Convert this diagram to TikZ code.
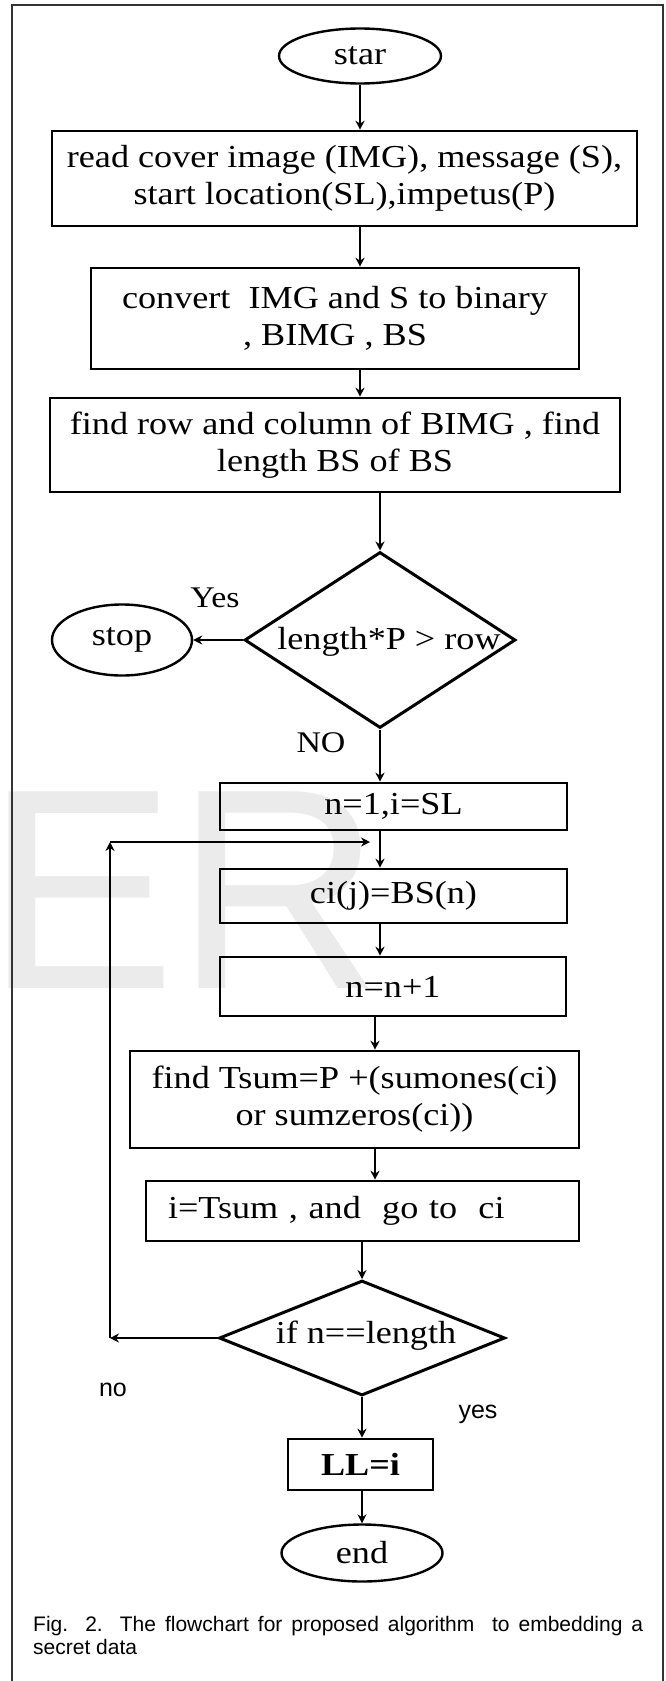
\documentclass[tikz,border=0pt]{standalone}
\usepackage{fontspec}
\setmainfont{Liberation Serif}[FakeStretch=1.13]
\newfontfamily\capfont{Liberation Sans}
\usetikzlibrary{arrows.meta, shapes.geometric}

\begin{document}
\begin{tikzpicture}[x=1pt, y=-1pt,
    procbox/.style={draw, line width=2.6pt, inner sep=0pt, align=center, font=\fontsize{32}{37}\selectfont},
    terminal/.style={draw, ellipse, line width=2.4pt, inner sep=0pt, font=\fontsize{32}{37}\selectfont},
    decision/.style={draw, diamond, line width=3pt, inner sep=0pt},
    cond text/.style={inner sep=0pt, font=\fontsize{32}{37}\selectfont},
    flow/.style={line width=2pt, -{Stealth[length=9pt, width=9pt]}},
    branch label/.style={inner sep=0pt, font=\fontsize{30}{32}\selectfont},
    sans label/.style={inner sep=0pt, font=\capfont\fontsize{25}{27}\selectfont}]

    \useasboundingbox (0,0) rectangle (666,1681);

    % faint letters behind the chart
    \node[anchor=base west, inner sep=0pt, text=black!8, font=\capfont\fontsize{286}{286}\selectfont] (wm) at (0,988) {\kern-15pt ER};

    % page frame
    \draw[black!80, line width=1.2pt] (12,1681) |- (663,5) -- (663,1681);

    % start and input steps
    \node[terminal, minimum width=162, minimum height=55] (star) at (360,56) {star};
    \node[procbox, minimum width=585, minimum height=95] (readin) at (344.5,178.5) {read cover image (IMG), message (S),\\start location(SL),impetus(P)};
    \node[procbox, minimum width=488, minimum height=101] (tobin) at (335,318.5) {convert~ IMG and S to binary\\, BIMG , BS};
    \node[procbox, minimum width=570, minimum height=94] (dims) at (335,445) {find row and column of BIMG , find\\length BS of BS};

    % capacity check
    \node[decision, minimum width=271, minimum height=176] (cap) at (380,640) {};
    \node[cond text] (captext) at (389,642) {length*P > row};
    \node[terminal, minimum width=140, minimum height=71] (stop) at (122,640) {stop};
    \node[branch label] (yes1) at (215,598) {Yes};
    \node[branch label] (no1) at (321,743) {NO};

    % embedding loop
    \node[procbox, minimum width=347, minimum height=47] (init) at (393.5,806.5) {n=1,i=SL};
    \node[procbox, minimum width=347, minimum height=54] (embed) at (393.5,896) {ci(j)=BS(n)};
    \node[procbox, minimum width=346, minimum height=59] (incr) at (393,986.5) {n=n+1};
    \node[procbox, minimum width=449, minimum height=97] (tsum) at (354.5,1099.5) {find Tsum=P +(sumones(ci)\\or sumzeros(ci))};
    \node[procbox, minimum width=433, minimum height=60, text width=389, align=left] (jump) at (362.5,1211) {i=Tsum , and~ go to~ ci};

    % end check
    \node[decision, minimum width=286, minimum height=115] (done) at (362,1338) {};
    \node[cond text] (donetext) at (366,1336) {if n==length};
    \node[sans label] (no2) at (113,1390) {no};
    \node[sans label] (yes2) at (478,1414) {yes};
    \node[procbox, minimum width=145, minimum height=51, font=\bfseries\fontsize{32}{37}\selectfont] (last) at (360.5,1464.5) {LL=i};
    \node[terminal, minimum width=161, minimum height=57] (end) at (362,1553) {end};

    % loop-back corners
    \coordinate (loopbot) at (110,1338);
    \coordinate (looptop) at (110,842);
    \coordinate (loopin) at (370,842);

    % connectors
    \draw[flow] (star.south) -- (star.south |- readin.north);
    \draw[flow] (readin.south -| star) -- (tobin.north -| star);
    \draw[flow] (tobin.south -| star) -- (dims.north -| star);
    \draw[flow] (dims.south -| cap) -- (cap.north);
    \draw[flow] (cap.west) -- (stop.east);
    \draw[flow] (cap.south) -- (cap.south |- init.north);
    \draw[flow] (init.south -| cap) -- (embed.north -| cap);
    \draw[flow] (embed.south -| cap) -- (incr.north -| cap);
    \draw[flow] ([xshift=-5pt]incr.south -| cap) -- ([xshift=-5pt]tsum.north -| cap);
    \draw[flow] ([xshift=-5pt]tsum.south -| cap) -- ([xshift=-5pt]jump.north -| cap);
    \draw[flow] (jump.south -| done) -- (done.north);
    \draw[flow] (done.south) -- (last.north -| done);
    \draw[flow] (last.south -| done) -- (end.north);
    \draw[flow] (done.west) -- (loopbot);
    \draw[flow] (loopbot) -- (looptop);
    \draw[flow] (looptop) -- (loopin);

    % figure caption
    \node[anchor=north west, inner sep=0pt, text width=610, align=justify, font=\capfont\fontsize{21}{23.5}\selectfont] (figcap) at (33,1616) {Fig. 2. The flowchart for proposed algorithm~ to embedding a\linebreak secret data};
\end{tikzpicture}
\end{document}
